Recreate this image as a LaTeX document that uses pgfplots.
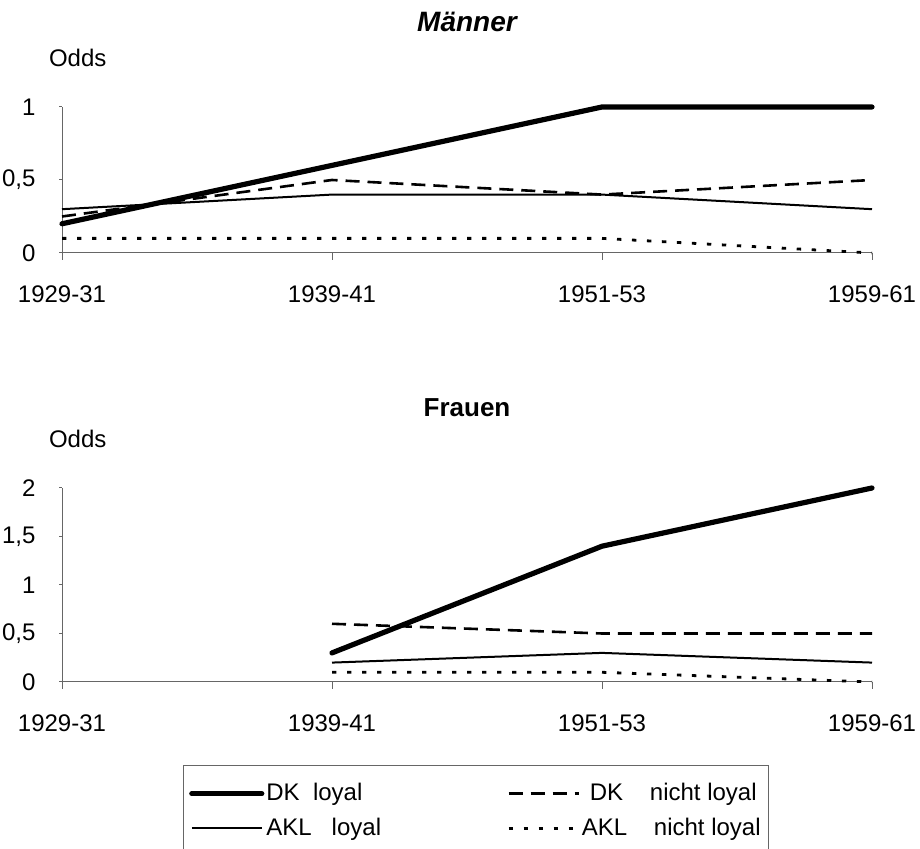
\documentclass[border=0pt]{standalone}
\usepackage{fontspec}
\setmainfont{Liberation Sans}
\usepackage{pgfplots}
\pgfplotsset{compat=1.18}

\pgfplotsset{
  odds/.style={
    scale only axis,
    width=405pt,
    xmin=0, xmax=3, ymin=0,
    xtick={0,1,2,3},
    xticklabels={1929-31,1939-41,1951-53,1959-61},
    axis lines=left,
    axis line style={-, black!60, line width=0.5pt},
    tick align=outside,
    tick style={black!60, line width=0.5pt},
    xtick style={/pgfplots/major tick length=3.5pt},
    ytick style={/pgfplots/major tick length=1.5pt},
    /pgf/number format/use comma,
    /pgf/number format/assume math mode=true,
    font=\fontsize{12}{14.4}\selectfont,
    xticklabel style={anchor=base, yshift=-20.25pt},
    yticklabel style={anchor=east, xshift=-5.5pt},
    ylabel={Odds},
    ylabel style={rotate=-90, at={(rel axis cs:0,1)}, anchor=base west, xshift=-10pt, yshift=20pt},
    title style={at={(rel axis cs:0.5,1)}, anchor=center},
    clip=false,
  },
  dkloyal/.style={black, line width=2.6pt, line cap=round},
  dknicht/.style={black, line width=1.3pt, dash pattern=on 7pt off 4pt},
  aklloyal/.style={black, line width=1pt},
  aklnicht/.style={black, line width=1.4pt, dash pattern=on 2.2pt off 5.3pt},
}

\begin{document}
\begin{tikzpicture}
% Maenner
\begin{axis}[odds,
    at={(31pt,298pt)}, anchor=south west,
    height=73pt, ymax=1, ytick={0,0.5,1},
    title={Männer},
    title style={yshift=36.5pt, font=\fontsize{14}{16.8}\selectfont\bfseries\itshape},
]
\addplot[dkloyal] coordinates {(0,0.2) (1,0.6) (2,1) (3,1)};
\addplot[dknicht] coordinates {(0,0.25) (1,0.5) (2,0.4) (3,0.5)};
\addplot[aklloyal] coordinates {(0,0.3) (1,0.4) (2,0.4) (3,0.3)};
\addplot[aklnicht] coordinates {(0,0.1) (1,0.1) (2,0.1) (3,0)};
\end{axis}
% Frauen
\begin{axis}[odds,
    at={(31pt,83.5pt)}, anchor=south west,
    height=97pt, ymax=2, ytick={0,0.5,1,1.5,2},
    title={Frauen},
    title style={yshift=34pt, font=\fontsize{13}{15.6}\selectfont\bfseries},
    legend columns=2,
    legend cell align=left,
    legend style={at={(0.149,-0.428)}, anchor=north west,
        draw=black!60, line width=0.5pt, inner xsep=3pt, inner ysep=8pt,
        row sep=5pt,
        /tikz/column 2/.style={column sep=62pt},
        nodes={inner sep=1pt}},
    legend image code/.code={\draw[#1] (0pt,0pt) -- (35pt,0pt);},
]
\addplot[dkloyal] coordinates {(1,0.3) (2,1.4) (3,2)};
\addplot[dknicht] coordinates {(1,0.6) (2,0.5) (3,0.5)};
\addplot[aklloyal] coordinates {(1,0.2) (2,0.3) (3,0.2)};
\addplot[aklnicht] coordinates {(1,0.1) (2,0.1) (3,0)};
\legend{DK\ \ loyal, \hspace{4pt}DK\ \ \ \ nicht loyal, AKL\ \ \ loyal, AKL\ \ \ \ nicht loyal}
\end{axis}
\pgfresetboundingbox
\useasboundingbox (0pt,0pt) rectangle (460pt,424.5pt);
\end{tikzpicture}
\end{document}
